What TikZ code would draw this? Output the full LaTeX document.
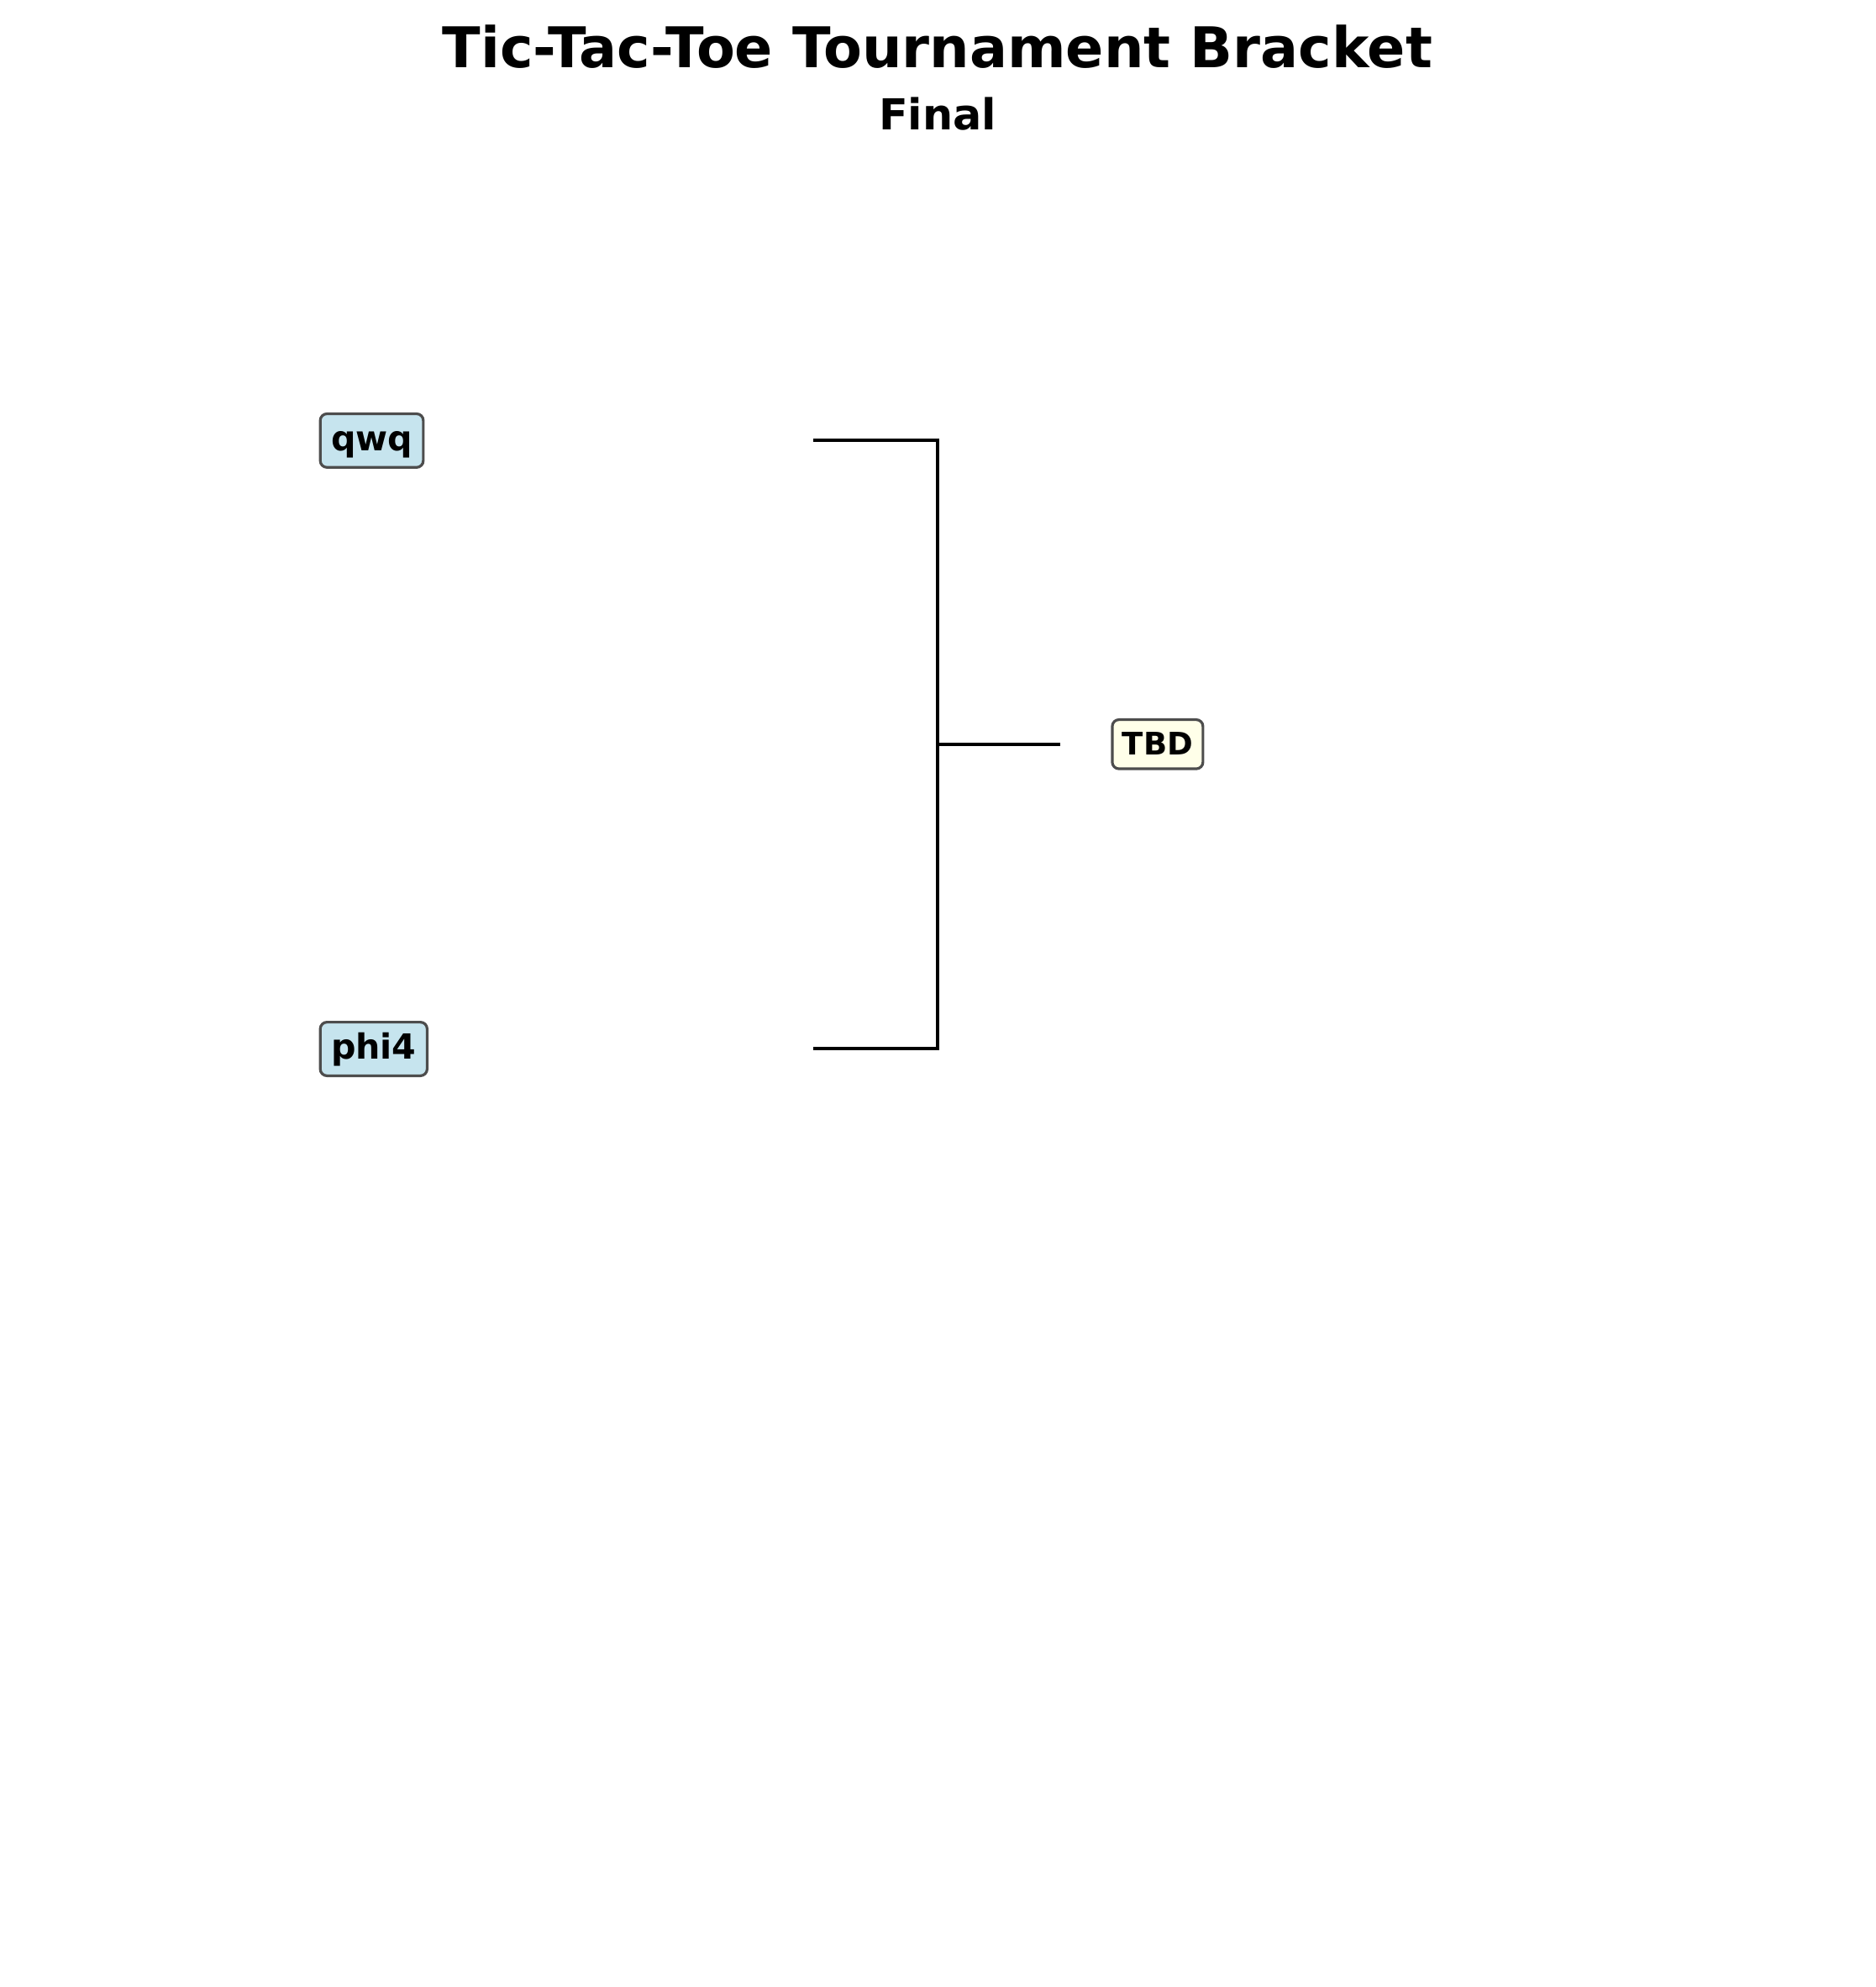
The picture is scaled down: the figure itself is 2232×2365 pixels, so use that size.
\documentclass[tikz,border=0pt]{standalone}
\usepackage{fontspec}
\setmainfont{DejaVu Sans}
\definecolor{boxedge}{RGB}{77,77,77}
\definecolor{playerfill}{RGB}{198,228,238}
\definecolor{tbdfill}{RGB}{255,255,233}
\begin{document}
\begin{tikzpicture}[x=0.5pt,y=-0.5pt,
  player/.style={draw=boxedge,line width=1.6pt,rounded corners=4pt,fill=playerfill,
    inner xsep=6.4pt,inner ysep=0pt,text height=21.95pt,text depth=9.95pt,
    font=\fontsize{20.6}{24}\selectfont\bfseries,anchor=west},
  pending/.style={player,fill=tbdfill,inner xsep=5.95pt,text height=20.85pt,text depth=8.4pt,
    font=\fontsize{18.5}{22}\selectfont\bfseries},
  bracketline/.style={line width=2.1pt,black}]
\useasboundingbox (0,0) rectangle (2232,2365);
\node[anchor=base,font=\fontsize{33.4}{40}\selectfont\bfseries] (title) at (1116,81) {Tic-Tac-Toe Tournament Bracket};
\node[anchor=base,font=\fontsize{25.4}{30}\selectfont\bfseries] (sub) at (1116,155) {Final};
\node[player] (p1) at (379.6,524.4) {qwq};
\node[player] (p2) at (379.6,1248.5) {phi4};
\node[pending] (w) at (1322.3,885.8) {TBD};
\coordinate (a1) at (968,524);
\coordinate (a2) at (968,1248);
\coordinate (j) at (1116,886);
\coordinate (b) at (1262,886);
\draw[bracketline] (a1) -- (j |- a1) -- (j |- a2) -- (a2);
\draw[bracketline] (j) -- (b);
\end{tikzpicture}
\end{document}
